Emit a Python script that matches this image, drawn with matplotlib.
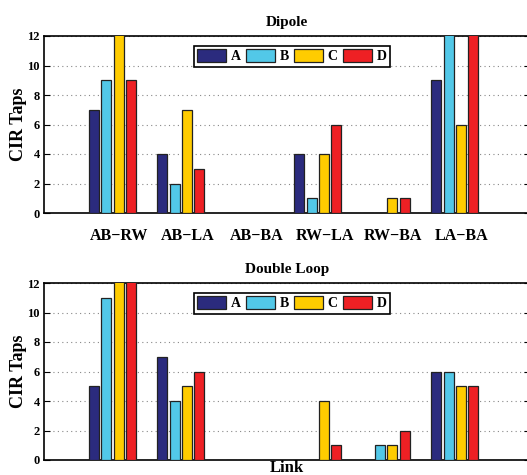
import numpy as np
import matplotlib
matplotlib.use('Agg')
import matplotlib.pyplot as plt
from matplotlib.transforms import ScaledTranslation

plt.rcParams['font.family'] = ['Liberation Serif', 'DejaVu Serif']
plt.rcParams['font.weight'] = 'bold'

links = ['AB\u2212RW', 'AB\u2212LA', 'AB\u2212BA', 'RW\u2212LA', 'RW\u2212BA', 'LA\u2212BA']
series = ['A', 'B', 'C', 'D']
colors = ['#2b2b7e', '#52c8e8', '#ffcc00', '#ee2024']

# bars reaching past 12 are clipped in the original, values there are estimates
dipole_A = [7, 4, 0, 4, 0, 9]
dipole_B = [9, 2, 0, 1, 0, 13]
dipole_C = [13, 7, 0, 4, 1, 6]
dipole_D = [9, 3, 0, 6, 1, 13]

loop_A = [5, 7, 0, 0, 0, 6]
loop_B = [11, 4, 0, 0, 1, 6]
loop_C = [13, 5, 0, 4, 1, 5]
loop_D = [13, 6, 0, 1, 2, 5]

fig = plt.figure(figsize=(5.27, 4.75), dpi=100)
ax1 = fig.add_axes([44/527, 1-213/475, 486/527, 177/475])
ax2 = fig.add_axes([44/527, 1-460/475, 486/527, 177/475])

x = np.arange(1, len(links) + 1)
offs = [-0.27, -0.09, 0.09, 0.27]
w = 0.145


def draw(ax, data, title):
    for i, vals in enumerate(data):
        ax.bar(x + offs[i], vals, w, color=colors[i], edgecolor='#222222',
               linewidth=0.9, label=series[i], zorder=3)
    ax.set_xlim(0, 7.1)
    ax.set_ylim(0, 12)
    ax.set_yticks(range(0, 13, 2))
    ax.yaxis.grid(True, linestyle=(0, (1, 3)), color='#888888', linewidth=0.8)
    ax.set_axisbelow(True)
    ax.tick_params(axis='y', direction='in', length=4, labelsize=9, right=True, pad=3)
    ax.tick_params(axis='x', length=0)
    for lab in ax.get_yticklabels():
        lab.set_fontweight('bold')
    ax.set_ylabel('CIR Taps', fontsize=13, fontweight='bold', labelpad=0)
    ax.set_title(title, fontsize=11, fontweight='bold', pad=7)
    for s in ax.spines.values():
        s.set_linewidth(1.2)
    leg = ax.legend(loc='upper center', ncol=4, fontsize=10, handlelength=2.1,
                    handleheight=1.1, columnspacing=0.4, handletextpad=0.3,
                    borderpad=0.25, fancybox=False, framealpha=1,
                    edgecolor='black', bbox_to_anchor=(0.51, 0.985))
    leg.get_frame().set_linewidth(1.2)
    for t in leg.get_texts():
        t.set_fontweight('bold')


draw(ax1, [dipole_A, dipole_B, dipole_C, dipole_D], 'Dipole')
draw(ax2, [loop_A, loop_B, loop_C, loop_D], 'Double Loop')

ax1.set_xticks(x)
ax1.set_xticklabels(links, fontsize=11.5, fontweight='bold')
ax1.tick_params(axis='x', pad=11)
shift = ScaledTranslation(7/100, 0, fig.dpi_scale_trans)
for lab in ax1.get_xticklabels():
    lab.set_transform(lab.get_transform() + shift)
ax2.set_xticks([])
ax2.set_xlabel('Link', fontsize=12, fontweight='bold', labelpad=0)

fig.savefig('out.png', dpi=100)
